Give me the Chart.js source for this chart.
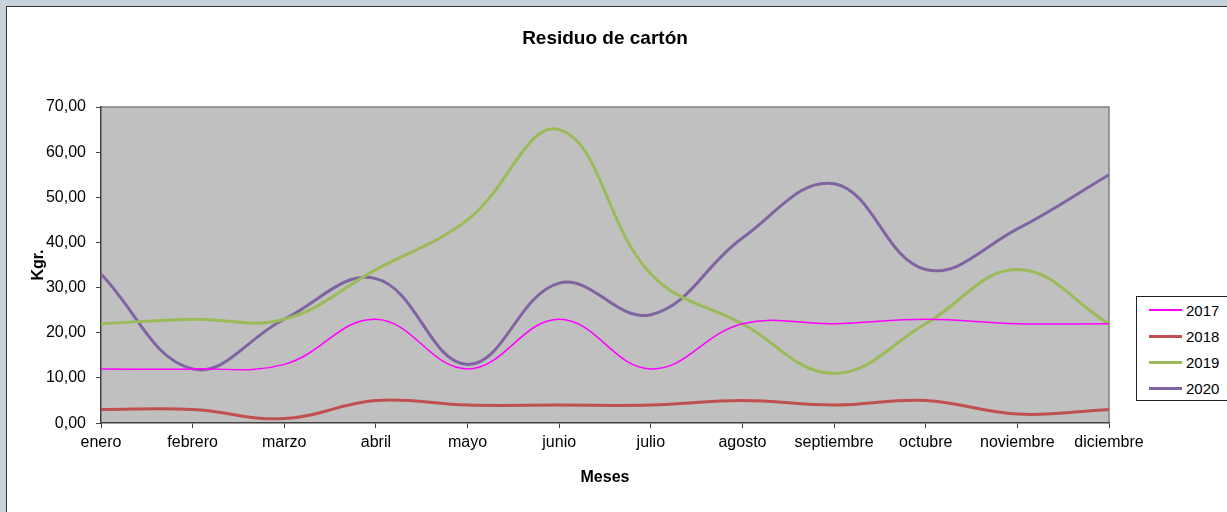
<!DOCTYPE html>
<html>
<head>
<meta charset="utf-8">
<script src="https://cdn.jsdelivr.net/npm/chart.js@4.4.1/dist/chart.umd.min.js"></script>
<style>
  html, body { margin: 0; padding: 0; }
  body { width: 1227px; height: 512px; background: #c8d2da; position: relative; overflow: hidden; font-family: "Liberation Sans", Arial, sans-serif; }
  .frame { position: absolute; left: 6px; top: 6px; right: 0; bottom: 0; background: #fff; border-left: 1px solid #333; border-top: 1px solid #333; }
  .chart-box { position: absolute; left: 0; top: 0; width: 1227px; height: 512px; }
  .legend { position: absolute; left: 1136px; top: 296px; width: 110px; height: 105px; border: 1px solid #222; background: #fff; box-sizing: border-box; }
  .legend-row { position: absolute; left: 12px; height: 20px; display: flex; align-items: center; font-size: 15px; color: #000; }
  .legend-row span.swatch { display: inline-block; width: 33px; margin-right: 4px; }
</style>
</head>
<body>
<div class="frame"></div>
<div class="chart-box"><canvas id="cartonChart"></canvas></div>
<div class="legend" id="legend"></div>

<script>
const months = ['enero', 'febrero', 'marzo', 'abril', 'mayo', 'junio', 'julio', 'agosto', 'septiembre', 'octubre', 'noviembre', 'diciembre'];
const years = ['2017', '2018', '2019', '2020'];
const v2017 = [12, 12, 13, 23, 12, 23, 12, 22, 22, 23, 22, 22];
const v2018 = [3, 3, 1, 5, 4, 4, 4, 5, 4, 5, 2, 3];
const v2019 = [22, 23, 23, 34, 45, 65, 33, 22, 11, 22, 34, 22];
const v2020 = [33, 12, 23, 32, 13, 31, 24, 41, 53, 34, 43, 55];
const yTicks = [0, 10, 20, 30, 40, 50, 60, 70];

const colors = ['#ff00ff', '#c0504d', '#9bbb59', '#8064a2'];
const widths = [1.5, 3, 3, 3];
const series = [v2017, v2018, v2019, v2020];

const FONT = '"Liberation Sans", Arial, sans-serif';

// grey plot background + light top/right edge like the spreadsheet chart
const plotBg = {
  id: 'plotBg',
  beforeDraw(chart) {
    const { ctx, chartArea: a } = chart;
    ctx.save();
    ctx.fillStyle = '#c0c0c0';
    ctx.fillRect(a.left, a.top, a.right - a.left, a.bottom - a.top);
    ctx.strokeStyle = '#808080';
    ctx.lineWidth = 1.5;
    ctx.beginPath();
    ctx.moveTo(a.left, a.top);
    ctx.lineTo(a.right, a.top);
    ctx.lineTo(a.right, a.bottom);
    ctx.stroke();
    ctx.restore();
  }
};

const datasets = years.map((y, i) => ({
  label: y,
  data: series[i],
  borderColor: colors[i],
  backgroundColor: colors[i],
  borderWidth: widths[i],
  tension: 0.4,
  pointRadius: 0,
  pointHoverRadius: 0,
  fill: false,
}));

new Chart(document.getElementById('cartonChart'), {
  type: 'line',
  data: { labels: months, datasets },
  plugins: [plotBg],
  options: {
    responsive: true, maintainAspectRatio: false,
    animation: false,
    layout: { padding: { top: 0, left: 0, right: 118, bottom: 24.5 } },
    plugins: {
      legend: { display: false },
      tooltip: { enabled: false },
      title: {
        display: true, text: 'Residuo de cartón', fullSize: false,
        color: '#000', font: { family: FONT, size: 19, weight: 'bold' },
        padding: { top: 27.6, bottom: 56.6 },
      },
    },
    scales: {
      x: {
        type: 'category',
        offset: false,
        grid: { display: true, drawOnChartArea: false, offset: false, tickLength: 5, tickColor: '#404040' },
        border: { display: true, color: '#404040', width: 1.5 },
        ticks: { color: '#000', padding: 5, maxRotation: 0, autoSkip: false, font: { family: FONT, size: 16 } },
        title: { display: true, text: 'Meses', color: '#000', font: { family: FONT, size: 16, weight: 'bold' }, padding: { top: 11, bottom: 0 } },
      },
      y: {
        min: 0, max: 70,
        afterBuildTicks: s => { s.ticks = yTicks.map(v => ({ value: v })); },
        afterFit: s => { s.width = 101; },
        grid: { display: true, drawOnChartArea: false, tickLength: 5, tickColor: '#404040' },
        border: { display: true, color: '#404040', width: 1.5 },
        ticks: { color: '#000', padding: 10, font: { family: FONT, size: 16 }, callback: v => v.toFixed(2).replace('.', ',') },
        title: { display: true, text: 'Kgr.', color: '#000', font: { family: FONT, size: 16, weight: 'bold' }, padding: { top: 29.4, bottom: 0 } },
      },
    },
  },
});

// legend box drawn beside the plot, built from the same series
const legendEl = document.getElementById('legend');
legendEl.innerHTML = years.map((y, i) => `
  <div class="legend-row" style="top:${3 + i * 26}px">
    <span class="swatch" style="height:${widths[i] === 3 ? 3 : 2}px;background:${colors[i]}"></span>${y}
  </div>`).join('');
</script>
</body>
</html>
